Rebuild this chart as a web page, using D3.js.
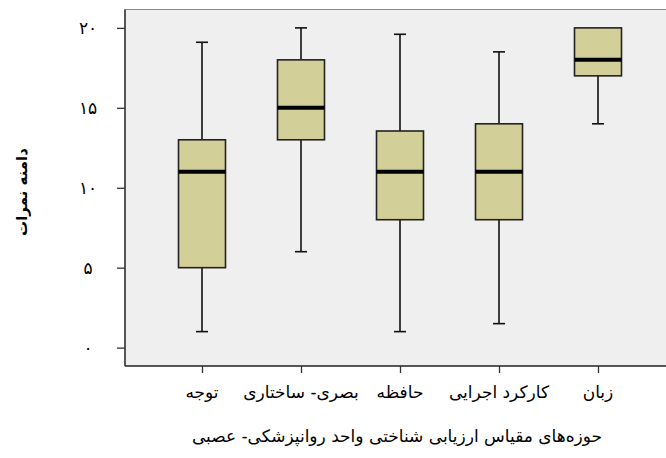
<!DOCTYPE html>
<html>
<head>
<meta charset="utf-8">
<script src="https://cdn.jsdelivr.net/npm/d3@7"></script>
<style>
    body { margin: 0; background: #fff; }
    svg { display: block; }
    .fa { font-family: "DejaVu Sans", sans-serif; }
</style>
</head>
<body>
<div id="chart"></div>
<script>
// Box plot - domains of the neuropsychological assessment scale
const categories = ['توجه', 'بصری- ساختاری', 'حافظه', 'کارکرد اجرایی', 'زبان'];
const minValues = [1, 6, 1, 1.5, 14];
const q1Values = [5, 13, 8, 8, 17];
const medianValues = [11, 15, 11, 11, 18];
const q3Values = [13, 18, 13.55, 14, 20];
const maxValues = [19.1, 20, 19.6, 18.5, 20];
const yTicks = [0, 5, 10, 15, 20];

const yTitle = 'دامنه نمرات';
const xTitle = 'حوزه‌های مقیاس ارزیابی شناختی واحد روانپزشکی- عصبی';

const width = 666, height = 458;
const frame = { left: 125, top: 9.5, right: 672, bottom: 366 };

const toPersian = s => String(s).replace(/\d/g, d => '۰۱۲۳۴۵۶۷۸۹'[d]);

const svg = d3.select('#chart')
    .append('svg')
    .attr('width', width)
    .attr('height', height);

const x = d3.scalePoint()
    .domain(categories)
    .range([202, 598]);

const y = d3.scaleLinear()
    .domain([-1.15, 21.15])
    .range([frame.bottom, frame.top]);

const boxWidth = 47;
const capWidth = 12;

// plot background
svg.append('rect')
    .attr('x', frame.left)
    .attr('y', frame.top)
    .attr('width', frame.right - frame.left)
    .attr('height', frame.bottom - frame.top)
    .attr('fill', '#efefef')
    .attr('stroke', '#8a8a8a')
    .attr('stroke-width', 1);

const boxes = categories.map((c, i) => ({
    cat: c,
    min: minValues[i],
    q1: q1Values[i],
    med: medianValues[i],
    q3: q3Values[i],
    max: maxValues[i]
}));

const g = svg.append('g').attr('class', 'boxes');

const box = g.selectAll('g')
    .data(boxes)
    .join('g')
    .attr('transform', d => `translate(${x(d.cat)},0)`);

// whiskers
box.append('line')
    .attr('x1', 0).attr('x2', 0)
    .attr('y1', d => y(d.q3))
    .attr('y2', d => y(d.max))
    .attr('stroke', '#111')
    .attr('stroke-width', 1.6);

box.append('line')
    .attr('x1', 0).attr('x2', 0)
    .attr('y1', d => y(d.q1))
    .attr('y2', d => y(d.min))
    .attr('stroke', '#111')
    .attr('stroke-width', 1.6);

// caps (only where the whisker exists)
box.filter(d => d.max > d.q3).append('line')
    .attr('x1', -capWidth / 2).attr('x2', capWidth / 2)
    .attr('y1', d => y(d.max)).attr('y2', d => y(d.max))
    .attr('stroke', '#111')
    .attr('stroke-width', 1.6);

box.filter(d => d.min < d.q1).append('line')
    .attr('x1', -capWidth / 2).attr('x2', capWidth / 2)
    .attr('y1', d => y(d.min)).attr('y2', d => y(d.min))
    .attr('stroke', '#111')
    .attr('stroke-width', 1.6);

// boxes
box.append('rect')
    .attr('x', -boxWidth / 2)
    .attr('width', boxWidth)
    .attr('y', d => y(d.q3))
    .attr('height', d => y(d.q1) - y(d.q3))
    .attr('fill', '#d3cf98')
    .attr('stroke', '#222')
    .attr('stroke-width', 1.6);

// medians
box.append('line')
    .attr('x1', -boxWidth / 2).attr('x2', boxWidth / 2)
    .attr('y1', d => y(d.med)).attr('y2', d => y(d.med))
    .attr('stroke', '#000')
    .attr('stroke-width', 4);

// y axis
const yAxis = svg.append('g')
    .attr('transform', `translate(${frame.left},0)`)
    .call(d3.axisLeft(y).tickValues(yTicks).tickSize(8).tickFormat(toPersian));
yAxis.select('.domain')
    .attr('d', `M0,${frame.top}V${frame.bottom}`)
    .attr('stroke', '#333')
    .attr('stroke-width', 1.5);
yAxis.selectAll('.tick line').attr('stroke', '#333').attr('stroke-width', 1.3);
yAxis.selectAll('.tick text')
    .attr('class', 'fa')
    .attr('x', -37)
    .attr('text-anchor', 'middle')
    .attr('font-size', 17)
    .attr('fill', '#000');

// x axis
const xAxis = svg.append('g')
    .attr('transform', `translate(0,${frame.bottom})`)
    .call(d3.axisBottom(x).tickSize(7).tickFormat(''));
xAxis.select('.domain')
    .attr('d', `M${frame.left},0H${frame.right}`)
    .attr('stroke', '#333')
    .attr('stroke-width', 1.5);
xAxis.selectAll('.tick line').attr('stroke', '#333').attr('stroke-width', 1.3);

// category labels
svg.append('g')
    .selectAll('text')
    .data(categories)
    .join('text')
    .attr('class', 'fa')
    .attr('x', d => x(d))
    .attr('y', 398)
    .attr('text-anchor', 'middle')
    .attr('font-size', 17)
    .attr('direction', 'rtl')
    .text(d => d);

// axis titles
svg.append('text')
    .attr('class', 'fa')
    .attr('x', 397)
    .attr('y', 442)
    .attr('text-anchor', 'middle')
    .attr('font-size', 17)
    .attr('direction', 'rtl')
    .text(xTitle);

svg.append('text')
    .attr('class', 'fa')
    .attr('transform', 'translate(27,192) rotate(-90)')
    .attr('text-anchor', 'middle')
    .attr('font-size', 15)
    .attr('font-weight', 'bold')
    .attr('direction', 'rtl')
    .text(yTitle);
</script>
</body>
</html>
